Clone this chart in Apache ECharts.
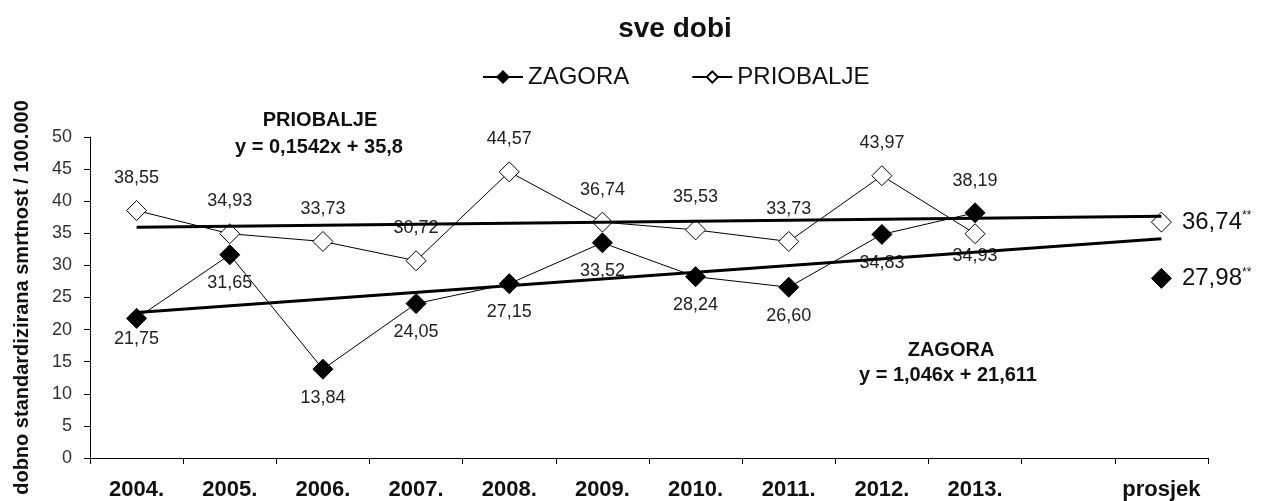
<!DOCTYPE html>
<html>
<head>
<meta charset="utf-8">
<script src="https://cdn.jsdelivr.net/npm/echarts@6/dist/echarts.min.js"></script>
<style>
html,body{margin:0;padding:0;background:#fff;}
#c{width:1270px;height:501px;}
</style>
</head>
<body>
<div id="c"></div>
<script>
var categories = ['2004.', '2005.', '2006.', '2007.', '2008.', '2009.', '2010.', '2011.', '2012.', '2013.', '', 'prosjek'];
var zagora = [21.75, 31.65, 13.84, 24.05, 27.15, 33.52, 28.24, 26.60, 34.83, 38.19];
var priobalje = [38.55, 34.93, 33.73, 30.72, 44.57, 36.74, 35.53, 33.73, 43.97, 34.93];
var avgZagora = [27.98];
var avgPriobalje = [36.74];
var trendZagora = [22.66, 34.16];
var trendPriobalje = [35.95, 37.65];
var yTicks = [0, 5, 10, 15, 20, 25, 30, 35, 40, 45, 50];

var FONT = "'Liberation Sans', Arial, sans-serif";
function fmt(v) { return v.toFixed(2).replace('.', ','); }

var zagoraData = zagora.map(function (v, i) {
  var d = { value: v };
  if (i === 9) d.label = { position: 'top', distance: 12 };
  if (i === 0) d.label = { position: 'bottom', distance: 1 };
  return d;
});
var priobaljeData = priobalje.map(function (v, i) {
  var d = { value: v };
  if (i === 9) d.label = { position: 'bottom', distance: 3 };
  return d;
});

var baseLabel = { show: true, fontFamily: FONT, fontSize: 18, color: '#222',
  formatter: function (p) { return fmt(Array.isArray(p.value) ? p.value[1] : p.value); } };

function avgLabel() {
  return {
    show: true, position: 'right', distance: 10,
    formatter: function (p) { return '{a|' + fmt(p.value[1]) + '}{b|**}'; },
    rich: {
      a: { fontFamily: FONT, fontSize: 24, color: '#111' },
      b: { fontFamily: FONT, fontSize: 12, color: '#111', padding: [0, 0, 12, 0] }
    }
  };
}

var chart = echarts.init(document.getElementById('c'), null, { renderer: 'canvas' });
chart.setOption({
  animation: false,
  backgroundColor: '#fff',
  textStyle: { fontFamily: FONT },
  title: {
    text: 'sve dobi', left: 670, textAlign: 'center', top: 10,
    textStyle: { fontFamily: FONT, fontSize: 28, fontWeight: 'bold', color: '#111' }
  },
  legend: {
    data: ['ZAGORA', 'PRIOBALJE'],
    left: 477, top: 60,
    itemWidth: 40, itemHeight: 14, itemGap: 62,
    textStyle: { fontFamily: FONT, fontSize: 24, color: '#111' }
  },
  grid: { left: 90, right: 62, top: 137, bottom: 42, containLabel: false },
  xAxis: {
    type: 'category', data: categories, boundaryGap: true,
    axisLine: { lineStyle: { color: '#000', width: 1 } },
    axisTick: { show: true, length: 6, lineStyle: { color: '#000' } },
    axisLabel: { fontFamily: FONT, fontSize: 22, fontWeight: 'bold', color: '#111', margin: 21, interval: 0 },
    splitLine: { show: false }
  },
  yAxis: {
    type: 'value', min: yTicks[0], max: yTicks[yTicks.length - 1], interval: 5,
    name: 'dobno standardizirana smrtnost / 100.000',
    nameLocation: 'middle', nameGap: 58, nameRotate: 90,
    nameTextStyle: { fontFamily: FONT, fontSize: 20, fontWeight: 'bold', color: '#111' },
    axisLine: { show: true, lineStyle: { color: '#000', width: 1 } },
    axisTick: { show: true, length: 6, lineStyle: { color: '#000' } },
    axisLabel: { fontFamily: FONT, fontSize: 18, color: '#333', margin: 18 },
    splitLine: { show: false }
  },
  series: [
    {
      name: 'ZAGORA', type: 'line', data: zagoraData, z: 3,
      symbol: 'diamond', symbolSize: 20,
      lineStyle: { color: '#000', width: 1 },
      itemStyle: { color: '#000', borderColor: '#000', borderWidth: 1 },
      label: Object.assign({}, baseLabel, { position: 'bottom', distance: 9 })
    },
    {
      name: 'PRIOBALJE', type: 'line', data: priobaljeData, z: 3,
      symbol: 'diamond', symbolSize: 20,
      lineStyle: { color: '#000', width: 1 },
      itemStyle: { color: '#fff', borderColor: '#000', borderWidth: 1 },
      label: Object.assign({}, baseLabel, { position: 'top', distance: 13 })
    },
    {
      name: 'trendZ', type: 'line', z: 4, symbol: 'none', silent: true,
      data: [[categories[0], trendZagora[0]], [categories[categories.length - 1], trendZagora[1]]],
      lineStyle: { color: '#000', width: 3 }
    },
    {
      name: 'trendP', type: 'line', z: 4, symbol: 'none', silent: true,
      data: [[categories[0], trendPriobalje[0]], [categories[categories.length - 1], trendPriobalje[1]]],
      lineStyle: { color: '#000', width: 3 }
    },
    {
      name: 'avgZ', type: 'scatter', z: 3, symbol: 'diamond', symbolSize: 20,
      data: [[categories[categories.length - 1], avgZagora[0]]],
      itemStyle: { color: '#000', borderColor: '#000', borderWidth: 1, opacity: 1 },
      label: avgLabel()
    },
    {
      name: 'avgP', type: 'scatter', z: 3, symbol: 'diamond', symbolSize: 20,
      data: [[categories[categories.length - 1], avgPriobalje[0]]],
      itemStyle: { color: '#fff', borderColor: '#000', borderWidth: 1, opacity: 1 },
      label: avgLabel()
    }
  ],
  graphic: [
    { type: 'text', x: 320, y: 120, style: { text: 'PRIOBALJE', fill: '#111', font: 'bold 20px ' + FONT, align: 'center', verticalAlign: 'middle' } },
    { type: 'text', x: 319, y: 147, style: { text: 'y = 0,1542x + 35,8', fill: '#111', font: 'bold 20px ' + FONT, align: 'center', verticalAlign: 'middle' } },
    { type: 'text', x: 951, y: 350, style: { text: 'ZAGORA', fill: '#111', font: 'bold 20px ' + FONT, align: 'center', verticalAlign: 'middle' } },
    { type: 'text', x: 948, y: 375, style: { text: 'y = 1,046x + 21,611', fill: '#111', font: 'bold 20px ' + FONT, align: 'center', verticalAlign: 'middle' } }
  ]
});
</script>
</body>
</html>
